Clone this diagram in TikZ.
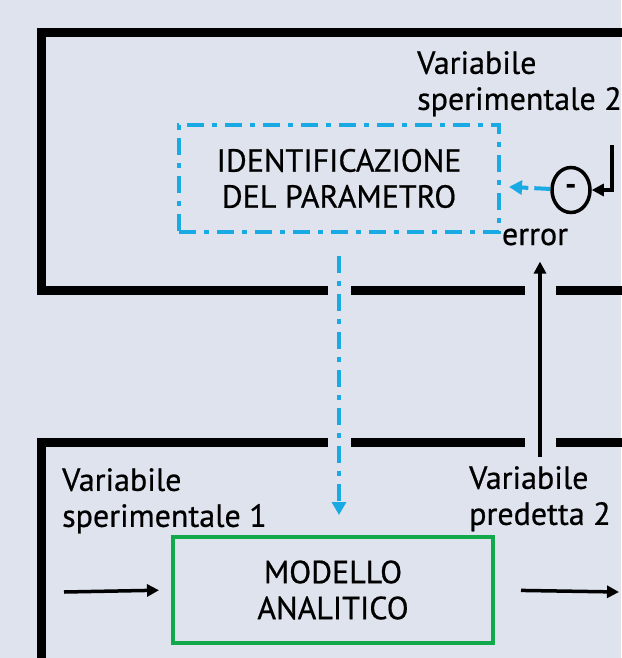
\documentclass[tikz,border=0pt]{standalone}
\usepackage{fontspec}
\setmainfont{PT Sans}[UprightFeatures={FakeBold=0.6}]
\usetikzlibrary{arrows.meta,positioning,shapes.geometric}
\definecolor{bgcol}{HTML}{DEE3ED}
\definecolor{idblue}{HTML}{1AAAE3}
\definecolor{modgreen}{HTML}{12A84C}
\tikzset{every node/.style={font=\fontsize{32}{36}\selectfont},
	frame/.style={line width=9pt,line join=miter},
	halo/.style={preaction={draw=bgcol,solid,line width=#1,-}},
	arr/.style={line width=3.5pt,-{Triangle[length=12pt,width=12pt]}},
	bluearr/.style={idblue,line width=4pt,dash pattern=on 16pt off 6pt,-{Triangle[length=13pt,width=14pt]}},
	bluedd/.style={idblue,line width=4pt,dash pattern=on 17pt off 8pt on 5pt off 8pt,-{Triangle[length=13pt,width=14pt]}},
	txt/.style={inner sep=0pt,align=left}}
\tikzstyle{idbox}=[draw=idblue,line width=4pt,dash pattern=on 17pt off 8pt on 5pt off 8pt,
minimum width=320pt,minimum height=107pt,align=center]
\tikzstyle{modbox}=[draw=modgreen,line width=4pt,
minimum width=320pt,minimum height=106pt,align=center]
\tikzstyle{sumnode}=[draw,ellipse,line width=3.5pt,minimum width=38pt,minimum height=45pt,inner sep=0pt,font=\fontsize{32}{36}\bfseries]

\begin{document}
\begin{tikzpicture}[x=1pt,y=-1pt]
	\useasboundingbox[fill=bgcol] (0,0) rectangle (621,658);
	\draw[frame] (640,32.5) -- (41.5,32.5) -- (41.5,290.5) -- (640,290.5);
	\draw[frame] (640,442.5) -- (41.5,442.5) -- (41.5,680);
	
	\node[idbox] (ident) at (339,178.5) {IDENTIFICAZIONE\\DEL PARAMETRO};
	\node[modbox] (model) at (333,590) {MODELLO\\ANALITICO};
	\node[sumnode] (minus) at (571,190) {-};
	\node[txt,anchor=north west] (var2) at (417,51) {Variabile\\sperimentale 2};
	\node[txt,anchor=north west] (var1) at (62,468) {Variabile\\sperimentale 1};
	\node[txt,anchor=north west] (pred) at (469,466) {Variabile\\predetta 2};
	\node[txt] (err) at (535,237) {error};
	
	\coordinate (feed) at (612,145);
	\coordinate (ptail) at (540,457);
	\coordinate (input) at (64,592);
	\coordinate (output) at (619,592);
	
	\draw[arr] (feed) |- (minus);
	\draw[bluearr,shorten >=8pt] (minus) -- (ident);
	\draw[bluedd,halo=23pt,shorten <=22pt,shorten >=20pt] (ident.south) -- (ident.south |- model.north);
	\draw[arr,halo=31pt,shorten >=16pt] (ptail) -- (ptail |- err.south);
	\draw[arr,shorten >=12pt] (input) -- (model.west);
	\draw[arr,shorten <=26pt] (model.east) -- (output);
\end{tikzpicture}
\end{document}
